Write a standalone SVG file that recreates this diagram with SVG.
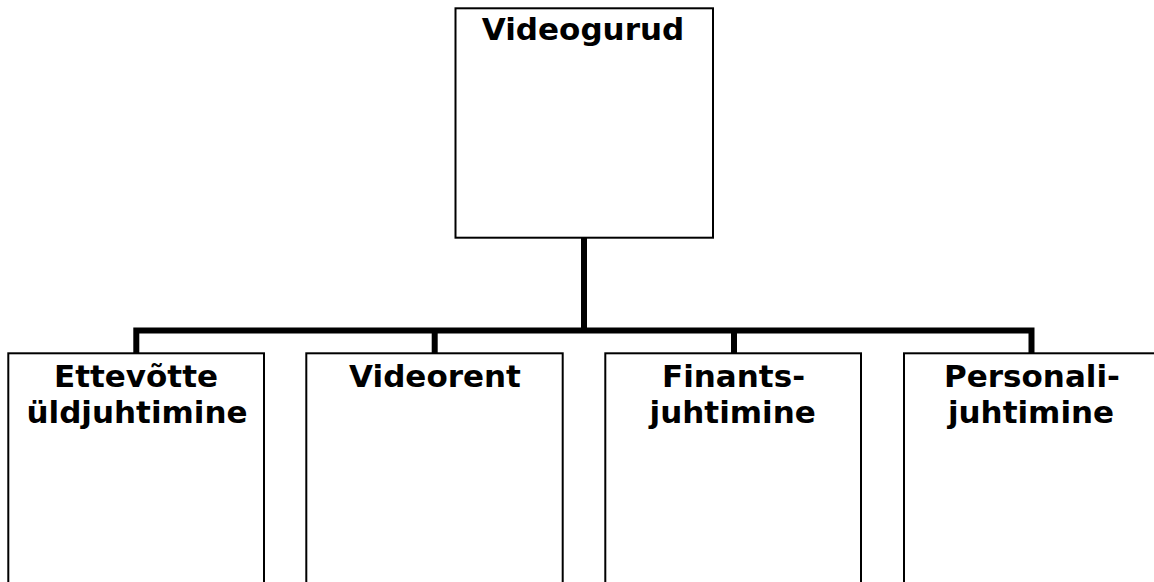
<svg xmlns="http://www.w3.org/2000/svg" width="1154" height="582" viewBox="0 0 1154 582">
  <style>
    .box { fill: #ffffff; stroke: #000000; stroke-width: 2; }
    .link { fill: none; stroke: #000000; stroke-width: 6; stroke-linejoin: miter; stroke-linecap: butt; }
    .label { font-family: "DejaVu Sans", Verdana, sans-serif; font-weight: bold; font-size: 31px; fill: #000000; text-anchor: middle; }
  </style>
  <rect x="0" y="0" width="1154" height="582" fill="#ffffff"/>

  <!-- org chart connectors -->
  <g id="connectors">
    <path class="link" d="M584 238 V330.5"/>
    <path class="link" d="M136.3 353 V330.5 H1031.5 V353"/>
    <path class="link" d="M434.7 330.5 V353"/>
    <path class="link" d="M734 330.5 V353"/>
  </g>

  <g id="node-videogurud">
    <rect class="box" x="455.5" y="8.3" width="257.5" height="229.4"/>
    <text class="label" x="583" y="40">Videogurud</text>
  </g>

  <g id="node-yldjuhtimine">
    <rect class="box" x="8.3" y="353.3" width="255.7" height="240"/>
    <text class="label" x="136" y="387.3">Ettevõtte</text>
    <text class="label" x="137" y="422.7">üldjuhtimine</text>
  </g>

  <g id="node-videorent">
    <rect class="box" x="306.3" y="353.3" width="256.4" height="240"/>
    <text class="label" x="435" y="387.3">Videorent</text>
  </g>

  <g id="node-finants">
    <rect class="box" x="605.3" y="353.3" width="255.7" height="240"/>
    <text class="label" x="733.5" y="387.3">Finants-</text>
    <text class="label" x="732.7" y="422.7">juhtimine</text>
  </g>

  <g id="node-personali">
    <rect class="box" x="904" y="353.3" width="256" height="240"/>
    <text class="label" x="1032" y="387.3">Personali-</text>
    <text class="label" x="1031" y="422.7">juhtimine</text>
  </g>
</svg>
